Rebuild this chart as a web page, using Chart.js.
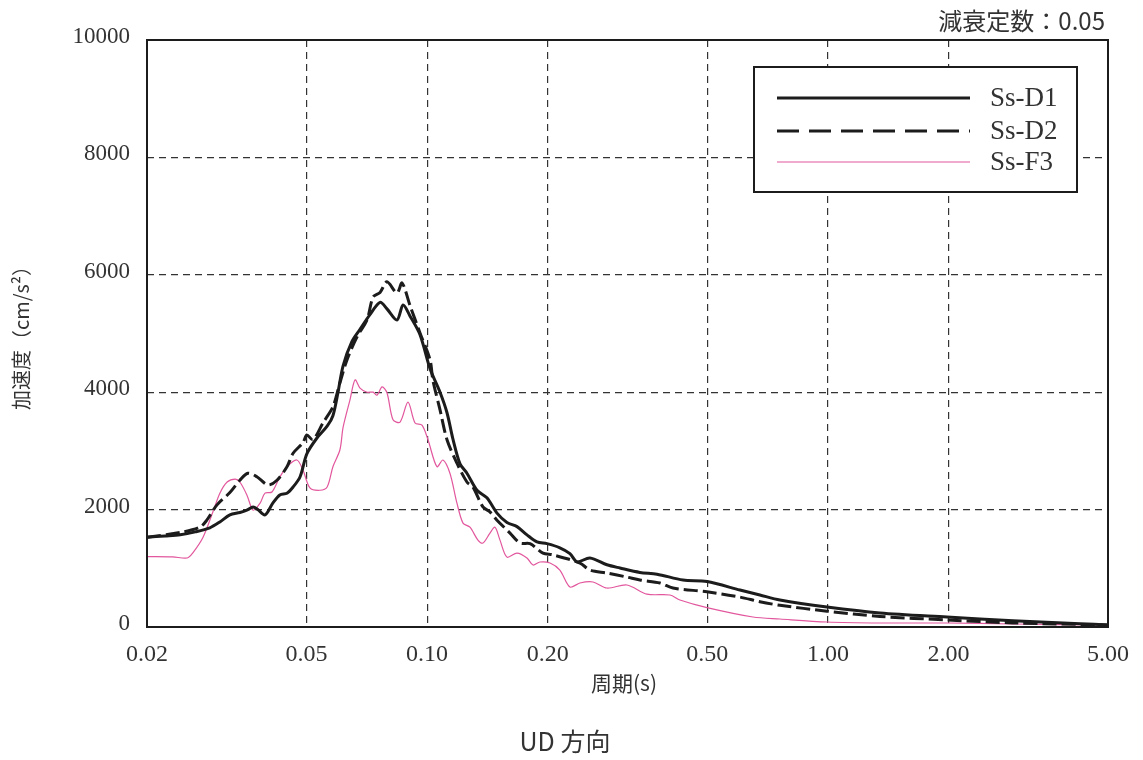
<!DOCTYPE html>
<html><head><meta charset="utf-8">
<script src="https://cdn.jsdelivr.net/npm/chart.js@4"></script>
<style>html,body{margin:0;padding:0;background:#fff}#wrap{width:1143px;height:760px}canvas{display:block}</style>
</head><body><div id="wrap"><canvas id="c" width="1143" height="760"></canvas></div>
<script>
// ---- data (period in s, acceleration in cm/s^2) ----
const periodsD1 = [0.0200,0.0222,0.0242,0.0264,0.0287,0.0304,0.0322,0.0341,0.0355,0.0368,0.0378,0.0394,0.0412,0.0429,0.0447,0.0463,0.0482,0.0501,0.0531,0.0563,0.0582,0.0599,0.0617,0.0649,0.0680,0.0720,0.0763,0.0794,0.0841,0.0871,0.0906,0.0960,0.1017,0.1077,0.1121,0.1160,0.1208,0.1257,0.1332,0.1410,0.1494,0.1582,0.1676,0.1775,0.1880,0.1991,0.2144,0.2272,0.2366,0.2548,0.2810,0.3028,0.3396,0.3746,0.4350,0.4992,0.6034,0.6766,0.7592,0.9948,1.349,1.982,2.896,4.256,5.0];
const accD1     = [1530,1550,1570,1620,1690,1790,1910,1950,1990,2045,2000,1910,2110,2250,2280,2385,2560,2950,3220,3420,3600,3990,4450,4860,5070,5320,5530,5420,5230,5485,5300,4980,4400,4000,3650,3200,2780,2620,2330,2200,1940,1780,1710,1570,1450,1420,1350,1250,1110,1176,1060,1005,930,900,800,775,630,545,460,341,240,170,105,55,35];

const periodsD2 = [0.0200,0.0242,0.0271,0.0282,0.0299,0.0322,0.0341,0.0357,0.0376,0.0401,0.0422,0.0447,0.0463,0.0490,0.0501,0.0519,0.0550,0.0582,0.0606,0.0631,0.0668,0.0708,0.0733,0.0763,0.0794,0.0841,0.0866,0.0906,0.0960,0.1017,0.1034,0.1077,0.1121,0.1187,0.1257,0.1301,0.1378,0.1435,0.1494,0.1610,0.1705,0.1806,0.1946,0.2060,0.2406,0.2548,0.2810,0.3152,0.3396,0.3810,0.4106,0.4992,0.6034,0.6766,0.7592,0.9948,1.349,1.982,2.896,5.0];
const accD2     = [1530,1610,1700,1820,2080,2290,2500,2620,2560,2420,2500,2730,2960,3140,3270,3190,3480,3750,4160,4550,4940,5230,5620,5700,5880,5690,5860,5480,5010,4550,4200,3700,3190,2790,2470,2385,2045,1960,1820,1600,1430,1420,1260,1230,1090,970,920,850,800,750,664,600,510,430,370,270,180,120,70,35];

const periodsF3 = [0.0200,0.0232,0.0252,0.0260,0.0276,0.0292,0.0304,0.0317,0.0332,0.0341,0.0355,0.0368,0.0383,0.0394,0.0410,0.0429,0.0447,0.0473,0.0490,0.0510,0.0540,0.0563,0.0582,0.0606,0.0617,0.0642,0.0661,0.0680,0.0708,0.0733,0.0750,0.0772,0.0794,0.0822,0.0856,0.0896,0.0933,0.0971,0.1005,0.1058,0.1095,0.1140,0.1187,0.1229,0.1279,0.1339,0.1378,0.1435,0.1477,0.1520,0.1582,0.1676,0.1775,0.1837,0.1912,0.2026,0.2144,0.2272,0.2406,0.2594,0.2810,0.3152,0.3536,0.4036,0.4274,0.4992,0.6502,0.7592,0.9948,1.349,1.982,2.896,5.0];
const accF3     = [1200,1195,1176,1260,1530,1960,2280,2470,2520,2470,2250,1990,2110,2280,2300,2555,2730,2845,2675,2370,2330,2385,2730,3020,3400,3870,4210,4070,4000,4000,3950,4090,3990,3530,3490,3830,3475,3440,3190,2730,2845,2620,2110,1770,1700,1480,1430,1600,1700,1480,1190,1260,1176,1056,1107,1090,970,681,750,767,664,716,560,545,460,330,170,136,85,68,68,51,34];

const seriesNames  = ["Ss-D1","Ss-D2","Ss-F3"];
const xTickValues  = [0.02,0.05,0.1,0.2,0.5,1,2,5];
const xTickLabels  = ["0.02","0.05","0.10","0.20","0.50","1.00","2.00","5.00"];
const yTickValues  = [0,2000,4000,6000,8000,10000];
const yTickLabels  = ["0","2000","4000","6000","8000","10000"];
const titleText    = "減衰定数：0.05";
const yTitle       = "加速度（cm/s²）";
const xTitle       = "周期(s)";
const captionText  = "UD 方向";

// ---- styles ----
const PINK = '#e2579d';
const INK = '#1c1c1c';
const TXT = '#333';
const NUMFONT = "'Liberation Serif','DejaVu Serif',serif";
const JPFONT = "'Noto Sans CJK JP','Noto Sans',sans-serif";

const toXY = (p, a) => p.map((v, i) => ({x: v, y: a[i]}));

const decor = {
  id: 'decor',
  afterDatasetsDraw(chart) {
    const {ctx, chartArea: ca} = chart;
    ctx.save();
    // frame
    ctx.strokeStyle = INK; ctx.lineWidth = 2; ctx.setLineDash([]);
    ctx.strokeRect(ca.left, ca.top, ca.right - ca.left, ca.bottom - ca.top);
    // legend box
    const lx = 754, ly = 67, lw = 323, lh = 125;
    ctx.fillStyle = '#fff';
    ctx.fillRect(lx, ly, lw, lh);
    ctx.strokeRect(lx, ly, lw, lh);
    const rows = [98, 131, 162];
    const styles = [
      {c: INK, w: 3, d: []},
      {c: INK, w: 3, d: [22, 10]},
      {c: PINK, w: 1.2, d: []}
    ];
    rows.forEach((y, i) => {
      ctx.beginPath();
      ctx.strokeStyle = styles[i].c; ctx.lineWidth = styles[i].w; ctx.setLineDash(styles[i].d);
      ctx.moveTo(777, y); ctx.lineTo(970, y); ctx.stroke();
      ctx.setLineDash([]);
      ctx.fillStyle = TXT; ctx.font = "27px " + NUMFONT;
      ctx.textAlign = 'left'; ctx.textBaseline = 'middle';
      ctx.fillText(seriesNames[i], 990, y + 1);
    });
    // titles
    ctx.fillStyle = TXT;
    ctx.font = "24px " + JPFONT; ctx.textAlign = 'right'; ctx.textBaseline = 'middle';
    ctx.fillText(titleText, 1105, 21);
    ctx.font = "21px " + JPFONT; ctx.textAlign = 'center';
    ctx.fillText(xTitle, 624, 683);
    ctx.font = "25px " + JPFONT;
    ctx.fillText(captionText, 565, 741);
    ctx.save();
    ctx.translate(21, 333); ctx.rotate(-Math.PI / 2);
    ctx.font = "20px " + JPFONT; ctx.textAlign = 'center'; ctx.textBaseline = 'middle';
    ctx.fillText(yTitle, 0, 0);
    ctx.restore();
    ctx.restore();
  }
};

new Chart(document.getElementById('c'), {
  type: 'line',
  data: {
    datasets: [
      {label: seriesNames[0], data: toXY(periodsD1, accD1), borderColor: INK, borderWidth: 3, pointRadius: 0, tension: 0.3, fill: false},
      {label: seriesNames[1], data: toXY(periodsD2, accD2), borderColor: INK, borderWidth: 3, borderDash: [14, 5], pointRadius: 0, tension: 0.3, fill: false},
      {label: seriesNames[2], data: toXY(periodsF3, accF3), borderColor: PINK, borderWidth: 1.2, pointRadius: 0, tension: 0.3, fill: false}
    ]
  },
  options: {
    responsive: false,
    animation: false,
    devicePixelRatio: 1,
    layout: {padding: {left: 0, top: 40, right: 35, bottom: 0}},
    plugins: {legend: {display: false}, tooltip: {enabled: false}},
    scales: {
      x: {
        type: 'logarithmic', min: 0.02, max: 5,
        afterBuildTicks: s => { s.ticks = xTickValues.map(v => ({value: v})); },
        afterFit: s => { s.height = 133; },
        ticks: {
          autoSkip: false, maxRotation: 0, minRotation: 0, padding: 13,
          color: TXT, font: {family: NUMFONT, size: 24},
          callback: (v, i) => xTickLabels[i]
        },
        grid: {color: '#333', lineWidth: 1.2, drawTicks: false},
        border: {display: false, dash: [7, 5]}
      },
      y: {
        type: 'linear', min: 0, max: 10000,
        afterBuildTicks: s => { s.ticks = yTickValues.map(v => ({value: v})); },
        afterFit: s => { s.width = 147; },
        ticks: {
          padding: 17, labelOffset: -3,
          color: TXT, font: {family: NUMFONT, size: 23},
          callback: (v, i) => yTickLabels[i]
        },
        grid: {color: '#333', lineWidth: 1.2, drawTicks: false},
        border: {display: false, dash: [7, 5]}
      }
    }
  },
  plugins: [decor]
});
</script>
</body></html>
